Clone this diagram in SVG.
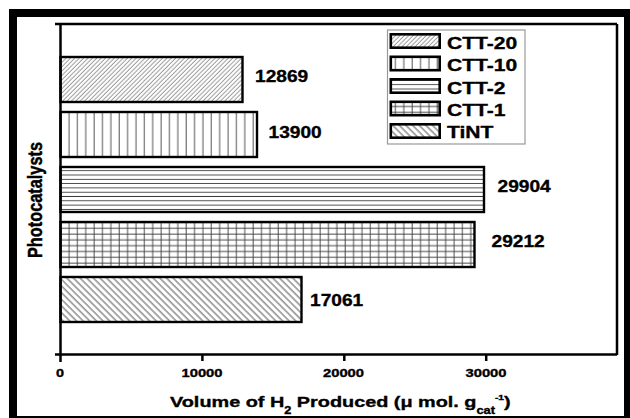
<svg xmlns="http://www.w3.org/2000/svg" width="630" height="418" viewBox="0 0 630 418">
<style>
.t{font-family:"Liberation Sans",Arial,sans-serif;font-weight:bold;fill:#000;stroke:#000;stroke-width:0.35}
.bar{stroke:#000;stroke-width:2.4}
.sw{stroke:#000;stroke-width:2.6}
.h{stroke:#3a3a3a;stroke-width:0.9}
.hf{stroke:#444;stroke-width:0.6}
.ax{stroke:#000;stroke-width:2.5;fill:none}
</style>
<defs>
<pattern id="p20" patternUnits="userSpaceOnUse" width="3.1" height="10" patternTransform="rotate(45)"><rect width="3.1" height="10" fill="#fff"/><line class="hf" x1="1" y1="0" x2="1" y2="10"/></pattern>
<pattern id="p10" patternUnits="userSpaceOnUse" width="8.37" height="10"><rect width="8.37" height="10" fill="#fff"/><line class="h" x1="2.04" y1="0" x2="2.04" y2="10"/></pattern>
<pattern id="p2" patternUnits="userSpaceOnUse" width="10" height="4.3"><rect width="10" height="4.3" fill="#fff"/><line class="h" x1="0" y1="3" x2="10" y2="3"/></pattern>
<pattern id="p1" patternUnits="userSpaceOnUse" width="8.37" height="5.8"><rect width="8.37" height="5.8" fill="#fff"/><line class="h" x1="2.04" y1="0" x2="2.04" y2="5.8"/><line class="h" x1="0" y1="2.1" x2="8.37" y2="2.1"/></pattern>
<pattern id="pt" patternUnits="userSpaceOnUse" width="4.7" height="10" patternTransform="rotate(-45)"><rect width="4.7" height="10" fill="#fff"/><line class="h" x1="1" y1="0" x2="1" y2="10"/></pattern>
</defs>
<rect width="630" height="418" fill="#fff"/>
<rect x="13" y="13" width="615" height="407" fill="none" stroke="#000" stroke-width="8"/>

<g id="bars">
<g id="bar-ctt20"><rect class="bar" x="60.5" y="57" width="182" height="45" fill="url(#p20)"/></g>
<g id="bar-ctt10"><rect class="bar" x="60.5" y="112" width="196.5" height="45" fill="url(#p10)"/></g>
<g id="bar-ctt2"><rect class="bar" x="60.5" y="167" width="423.5" height="45" fill="url(#p2)"/></g>
<g id="bar-ctt1"><rect class="bar" x="60.5" y="222" width="414" height="45" fill="url(#p1)"/></g>
<g id="bar-tint"><rect class="bar" x="60.5" y="277" width="241" height="45" fill="url(#pt)"/></g>
</g>

<g id="axes">
<line class="ax" x1="55" y1="24" x2="617" y2="24"/>
<line class="ax" x1="617" y1="24" x2="617" y2="355" stroke-width="3"/>
<line class="ax" x1="60.5" y1="24" x2="60.5" y2="362"/>
<line class="ax" x1="55" y1="354.5" x2="617" y2="354.5"/>
<line class="ax" x1="202.4" y1="354.5" x2="202.4" y2="361"/>
<line class="ax" x1="344.3" y1="354.5" x2="344.3" y2="361"/>
<line class="ax" x1="486.2" y1="354.5" x2="486.2" y2="361"/>
</g>

<g id="tick-labels" class="t" font-size="11.8" text-anchor="middle">
<text transform="translate(60,376.5) scale(1.22,1)">0</text>
<text transform="translate(202,376.5) scale(1.25,1)">10000</text>
<text transform="translate(343.5,376.5) scale(1.25,1)">20000</text>
<text transform="translate(486,376.5) scale(1.25,1)">30000</text>
</g>

<g id="value-labels" class="t" font-size="16.5">
<text transform="translate(255,81.7) scale(1.16,1)">12869</text>
<text transform="translate(268.5,138.2) scale(1.16,1)">13900</text>
<text transform="translate(497.5,191.7) scale(1.16,1)">29904</text>
<text transform="translate(491.5,247.2) scale(1.16,1)">29212</text>
<text transform="translate(310,306) scale(1.16,1)">17061</text>
</g>

<g id="legend">
<rect x="387.5" y="30" width="137.5" height="114" fill="#fff" stroke="#999" stroke-width="1.2"/>
<g id="leg-ctt20"><rect class="sw" x="390.8" y="34.3" width="48.9" height="13.4" fill="url(#p20)"/><text class="t" font-size="17" transform="translate(447,49) scale(1.24,1)">CTT-20</text></g>
<g id="leg-ctt10"><rect class="sw" x="390.8" y="56.8" width="48.9" height="13.4" fill="url(#p10)"/><text class="t" font-size="17" transform="translate(447,71.2) scale(1.24,1)">CTT-10</text></g>
<g id="leg-ctt2"><rect class="sw" x="390.8" y="79.3" width="48.9" height="13.4" fill="url(#p2)"/><text class="t" font-size="17" transform="translate(447,93.5) scale(1.24,1)">CTT-2</text></g>
<g id="leg-ctt1"><rect class="sw" x="390.8" y="101.8" width="48.9" height="13.4" fill="url(#p1)"/><text class="t" font-size="17" transform="translate(447,115.9) scale(1.24,1)">CTT-1</text></g>
<g id="leg-tint"><rect class="sw" x="390.8" y="124.3" width="48.9" height="13.4" fill="url(#pt)"/><text class="t" font-size="17" transform="translate(447,138.2) scale(1.24,1)">TiNT</text></g>
</g>

<g id="axis-titles">
<text class="t" font-size="15.5" transform="translate(170,406.5) scale(1.28,1)">Volume of H<tspan font-size="10" dy="7">2</tspan><tspan dy="-7"> Produced (μ mol. g</tspan><tspan font-size="10" dy="7">cat</tspan><tspan font-size="8" dy="-13.5">-1</tspan><tspan dy="6.5">)</tspan></text>
<text class="t" font-size="16" text-anchor="middle" transform="translate(41.5,200) rotate(-90) scale(1.02,1.3)">Photocatalysts</text>
</g>
</svg>
